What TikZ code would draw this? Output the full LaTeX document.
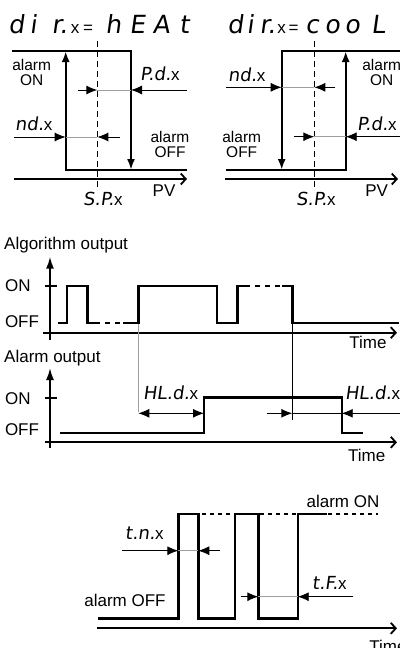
\documentclass[tikz,border=0pt]{standalone}
\usepackage{fontspec}
\setmainfont{Liberation Sans}
\newfontfamily\segfont[FakeSlant=0.14]{DejaVu Sans}
\usetikzlibrary{arrows.meta}
\newcommand{\sg}[1]{{\segfont\fontsize{18}{18}\selectfont #1}}
\newcommand{\sgx}{{\fontsize{17}{17}\selectfont x}}
\newcommand{\sgt}[1]{{\segfont\fontsize{25}{25}\selectfont #1}}
\newcommand{\bx}[2]{\makebox[#1pt]{#2}}
\begin{document}
\begin{tikzpicture}[x=1pt,y=-1pt,
  sig/.style={line width=2.4pt,line join=miter,line cap=butt},
  axis/.style={line width=1.8pt},
  thin/.style={line width=0.9pt},
  dimgray/.style={line width=0.9pt,gray!75},
  dimarr/.style={thin,-{Latex[length=11pt,width=9pt]}},
  bigarr/.style={-{Latex[length=11pt,width=8pt]}},
  timeax/.style={axis,-{Straight Barb[length=5pt,width=11pt]}},
  vax/.style={axis,-{Latex[length=12pt,width=8pt]}},
  dsh/.style={line width=1.6pt,dash pattern=on 6pt off 4pt},
  dots/.style={line width=1.6pt,dash pattern=on 4pt off 4pt},
  lbl/.style={font=\fontsize{17}{17}\selectfont,inner sep=0pt},
  sml/.style={font=\fontsize{15.5}{15}\selectfont,inner sep=0pt,align=center},
  seg/.style={inner sep=0pt,anchor=base west}]
\useasboundingbox (0,0) rectangle (399,648);

% ---------------- top left: heat ----------------
\node[seg] (title1) at (5,33) {\bx{22}{\sgt{d}}\bx{12}{\sgt{i}}\hspace{11pt}\bx{19}{\sgt{r.}}\bx{12}{\sgx}\bx{14}{\fontsize{17}{17}\selectfont =}\hspace{6pt}\bx{24}{\sgt{h}}\bx{24}{\sgt{E}}\bx{24}{\sgt{A}}\bx{22}{\sgt{t}}};
\draw[dsh] (97.3,41) -- (97.3,187);
\draw[sig,bigarr] (12,50.7) -- (131,50.7) -- (131,170);
\draw[sig,bigarr] (186.7,170) -- (65.7,170) -- (65.7,51);
\draw[timeax] (14,179) -- (187,179);
\node[sml] (on1) at (31.7,72.5) {alarm\\ON};
\node[sml] (off1) at (170,144.5) {alarm\\OFF};
\node[lbl] (pv1) at (164,191) {PV};
\node[seg] (sp1) at (83,205) {\sg{S.P.}\sgx};
% P.d.x
\node[seg] (pd1) at (140,80) {\sg{P.d.}\sgx};
\draw[dimarr] (78,90) -- (97.3,90);
\draw[dimarr] (187,90) -- (131,90);
\draw[dimgray] (97.3,90) -- (131,90);
% nd.x
\node[seg] (nd1) at (15,130) {\sg{nd.}\sgx};
\draw[dimarr] (14,137) -- (65.7,137);
\draw[dimarr] (120,137) -- (97.3,137);
\draw[dimgray] (65.7,137) -- (97.3,137);

% ---------------- top right: cool ----------------
\node[seg] (title2) at (227,33) {\bx{16}{\sgt{d}}\bx{14}{\sgt{i}}\hspace{2pt}\bx{17}{\sgt{r.}}\bx{11}{\sgx}\bx{13}{\fontsize{17}{17}\selectfont =}\hspace{2pt}\bx{20}{\sgt{c}}\bx{20}{\sgt{o}}\bx{20}{\sgt{o}}\bx{32}{\sgt{L}}};
\draw[dsh] (314.3,41) -- (314.3,187);
\draw[sig,bigarr] (400,50.7) -- (281.7,50.7) -- (281.7,170);
\draw[sig,bigarr] (226,170) -- (345.7,170) -- (345.7,51);
\draw[timeax] (225,179) -- (398,179);
\node[sml] (on2) at (381.7,72.5) {alarm\\ON};
\node[sml] (off2) at (241.7,144.5) {alarm\\OFF};
\node[lbl] (pv2) at (376.7,191) {PV};
\node[seg] (sp2) at (296,205) {\sg{S.P.}\sgx};
% nd.x
\node[seg] (nd2) at (228,81) {\sg{nd.}\sgx};
\draw[dimarr] (226,87.3) -- (281.7,87.3);
\draw[dimarr] (335,87.3) -- (314.3,87.3);
\draw[dimgray] (281.7,87.3) -- (314.3,87.3);
% P.d.x
\node[seg] (pd2) at (357,130) {\sg{P.d.}\sgx};
\draw[dimarr] (294.3,136.7) -- (314.3,136.7);
\draw[dimarr] (400,136.7) -- (345.7,136.7);
\draw[dimgray] (314.3,136.7) -- (345.7,136.7);

% ---------------- algorithm output ----------------
\node[lbl,anchor=west] (ao) at (4,245) {Algorithm output};
\draw[vax] (50,340) -- (50,256.7);
\draw[axis] (45,286) -- (57,286);
\node[lbl] (aon) at (18,286) {ON};
\node[lbl] (aoff) at (22,321.7) {OFF};
\draw[timeax] (43,332.7) -- (397,332.7);
\node[lbl] (atime) at (368,342) {Time};
\draw[sig] (58,322.7) -- (66.7,322.7) -- (66.7,286) -- (87.3,286) -- (87.3,322.7) -- (95,322.7);
\draw[dsh,dash pattern=on 5pt off 5pt] (95,322.7) -- (123.3,322.7);
\draw[sig] (123.3,322.7) -- (138.3,322.7) -- (138.3,286) -- (216.7,286) -- (216.7,322.7) -- (237.3,322.7) -- (237.3,286) -- (245,286);
\draw[dsh,dash pattern=on 5pt off 5pt] (245,286) -- (281.7,286);
\draw[sig] (281.7,286) -- (292.3,286) -- (292.3,322.7) -- (399,322.7);
\draw[dimgray] (138.3,324) -- (138.3,411.7);
\draw[thin] (292.3,324) -- (292.3,420);

% ---------------- alarm output ----------------
\node[lbl,anchor=west] (alo) at (4,358) {Alarm output};
\draw[vax] (50,448) -- (50,368);
\draw[axis] (45,398.3) -- (57,398.3);
\node[lbl] (lon) at (18,398.3) {ON};
\node[lbl] (loff) at (22,430) {OFF};
\draw[timeax] (45,442.3) -- (397,442.3);
\node[lbl] (ltime) at (366.7,455) {Time};
\draw[sig] (60,432.7) -- (204,432.7) -- (204,397.3) -- (341.7,397.3) -- (341.7,432.7) -- (362.7,432.7);
\node[seg] (hl1) at (143,399) {\sg{HL.d.}\sgx};
\draw[thin,{Latex[length=11pt,width=9pt]}-{Latex[length=11pt,width=9pt]}] (138.3,413.3) -- (204,413.3);
\node[seg] (hl2) at (345,399) {\sg{HL.d.}\sgx};
\draw[dimarr] (266.7,413.3) -- (292.3,413.3);
\draw[dimarr] (400,413.3) -- (341.7,413.3);
\draw[thin] (292.3,413.3) -- (341.7,413.3);

% ---------------- delays ----------------
\draw[sig] (98.3,618.3) -- (178.3,618.3) -- (178.3,514) -- (198.3,514) -- (198.3,618.3) -- (235,618.3) -- (235,514) -- (258.3,514) -- (258.3,618.3) -- (297.7,618.3) -- (297.7,514) -- (326.7,514);
\draw[dots] (201.7,514) -- (233,514);
\draw[dots] (260,514) -- (296,514);
\draw[dots] (328,514) -- (378.3,514);
\draw[timeax] (96.7,628.3) -- (397,628.3);
\node[lbl] (btime) at (388,646) {Time};
\node[lbl] (bon) at (343,501.7) {alarm ON};
\node[lbl] (boff) at (125,600) {alarm OFF};
\node[seg] (tn) at (125,539) {\sg{t.n.}\sgx};
\draw[dimarr] (121.7,550.7) -- (178.3,550.7);
\draw[dimarr] (220,550.7) -- (198.3,550.7);
\draw[dimgray] (178.3,550.7) -- (198.3,550.7);
\node[seg] (tf) at (312,589) {\sg{t.F.}\sgx};
\draw[dimarr] (240.7,596.7) -- (258.3,596.7);
\draw[dimarr] (353.3,596.7) -- (297.7,596.7);
\draw[dimgray] (258.3,596.7) -- (297.7,596.7);
\end{tikzpicture}
\end{document}
